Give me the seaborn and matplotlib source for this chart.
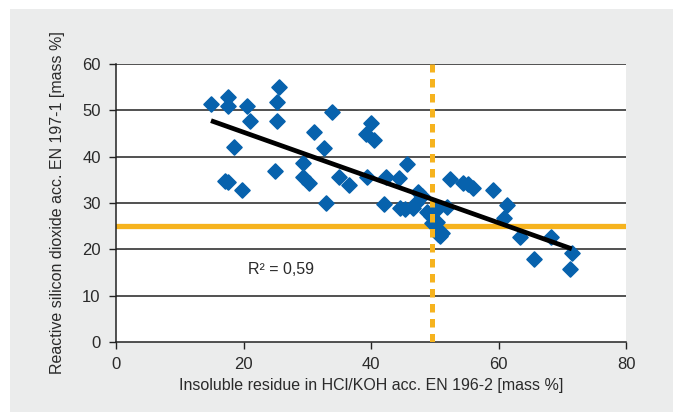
import matplotlib
matplotlib.use("Agg")
import matplotlib.pyplot as plt
import seaborn as sns
import numpy as np
import pandas as pd
from matplotlib.patches import Rectangle

# Data
insoluble_residue = [14.9, 17.6, 17.6, 20.5, 21.0, 18.5, 17.1, 17.6, 19.8,
                     25.6, 25.3, 25.3, 24.9, 29.3, 29.3, 30.3, 31.0, 32.6,
                     33.9, 33.0, 35.0, 36.6, 39.2, 40.0, 40.4, 39.4, 42.4,
                     42.0, 44.4, 45.6, 44.5, 45.4, 46.6, 47.0, 47.4, 48.0,
                     48.8, 49.4, 49.6, 50.4, 50.4, 50.5, 51.2, 50.8, 51.9,
                     52.4, 54.4, 55.2, 56.0, 59.1, 61.4, 60.8, 63.4, 65.6,
                     68.2, 71.5, 71.2]
reactive_sio2 = [51.3, 52.8, 50.9, 50.9, 47.6, 42.0, 34.8, 34.5, 32.8,
                 55.0, 51.7, 47.6, 37.0, 38.7, 35.7, 34.4, 45.3, 41.8,
                 49.6, 30.1, 35.7, 33.8, 45.0, 47.2, 43.7, 35.7, 35.7,
                 29.7, 35.3, 38.4, 29.0, 28.6, 29.0, 30.0, 32.3, 31.6,
                 28.0, 27.3, 25.6, 26.0, 28.6, 23.3, 23.6, 22.8, 29.2,
                 35.2, 34.4, 34.2, 33.2, 32.9, 29.6, 26.7, 22.6, 18.0,
                 22.7, 19.2, 15.7]
limit_sio2 = 25.0
limit_residue = 49.5
r2_text = "R² = 0,59"
x_ticks = [0, 20, 40, 60, 80]
y_ticks = [0, 10, 20, 30, 40, 50, 60]

df = pd.DataFrame({"x": insoluble_residue, "y": reactive_sio2})

sns.set_theme(style="white")
plt.rcParams["font.family"] = ["Liberation Sans", "DejaVu Sans"]

blue = "#0762ad"
orange = "#f6b31e"
txt = "#2a2a2a"

fig = plt.figure(figsize=(6.73, 4.16), dpi=100)
fig.patch.set_facecolor("white")
fig.patches.append(Rectangle((10 / 673, 1 - 412 / 416), 663 / 673, 403 / 416,
                             transform=fig.transFigure, facecolor="#ebecec",
                             edgecolor="none", zorder=-10))

ax = fig.add_axes([116 / 673, 1 - 342 / 416, 510 / 673, 278 / 416])
ax.set_facecolor("white")

ax.set_xlim(0, 80)
ax.set_ylim(0, 60)

for yv in y_ticks[1:]:
    ax.axhline(yv, color="#222222", lw=1.1, zorder=1)

ax.axhline(limit_sio2, color=orange, lw=3.8, zorder=2)

sns.scatterplot(data=df, x="x", y="y", marker="D", s=58, color=blue,
                edgecolor=blue, linewidth=1.2, ax=ax, zorder=3)

ax.axvline(limit_residue, color=orange, lw=3.6, dashes=(1.7, 1.3), zorder=4)

sns.regplot(data=df, x="x", y="y", scatter=False, ci=None, truncate=True,
            line_kws=dict(color="black", lw=3.4, solid_capstyle="butt", zorder=5),
            ax=ax)

ax.text(20.7, 15.6, r2_text, fontsize=11.5, color=txt, va="center", ha="left")

ax.set_xticks(x_ticks)
ax.set_yticks(y_ticks)
ax.tick_params(axis="both", which="both", direction="out", length=5, width=1,
               color="#222222", labelsize=12, labelcolor=txt, pad=6,
               left=True, bottom=True)
ax.set_xlabel("Insoluble residue in HCl/KOH acc. EN 196-2 [mass %]",
              fontsize=11.5, color=txt, labelpad=4)
ax.set_ylabel("Reactive silicon dioxide acc. EN 197-1 [mass %]",
              fontsize=11.5, color=txt, labelpad=12)

for side in ["top", "right"]:
    ax.spines[side].set_visible(False)
for side in ["left", "bottom"]:
    ax.spines[side].set_color("#222222")
    ax.spines[side].set_linewidth(1.1)

fig.savefig("out.png", dpi=100)
